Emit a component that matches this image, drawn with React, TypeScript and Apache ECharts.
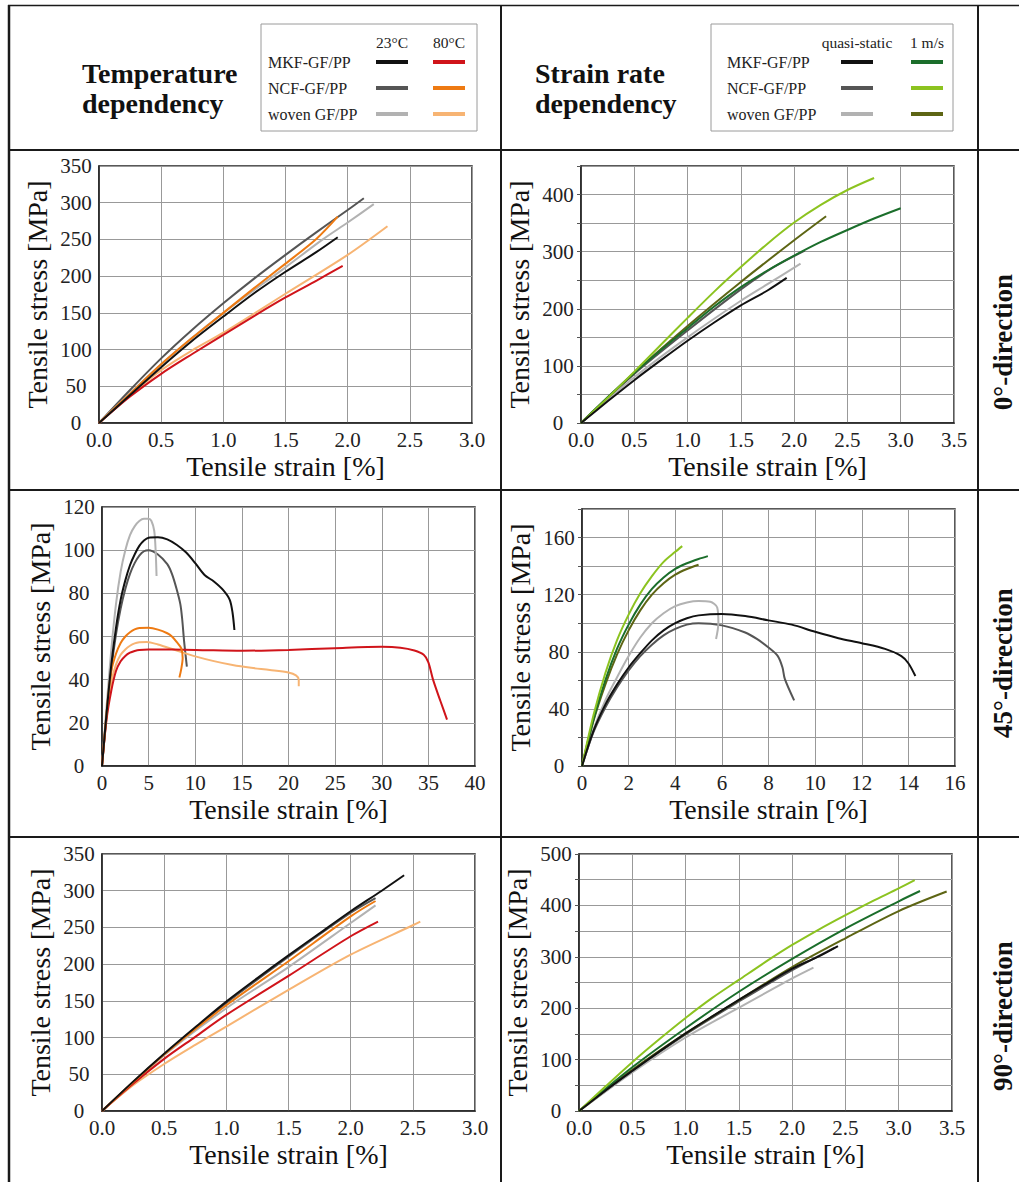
import React, { useEffect, useRef } from "react";
import * as echarts from "echarts";

const FONT = "Liberation Serif";

// legend / category labels
const materials = ["MKF-GF/PP", "NCF-GF/PP", "woven GF/PP"];
const tempColumns = ["23°C", "80°C"];
const rateColumns = ["quasi-static", "1 m/s"];
const directions = ["0°-direction", "45°-direction", "90°-direction"];

// colours: [MKF, NCF, woven]
const colors23 = ["#111111", "#555555", "#b2b2b2"];
const colors80 = ["#d0141a", "#ee7a12", "#f7b473"];
const colorsQS = ["#111111", "#555555", "#b2b2b2"];
const colors1ms = ["#1b6e2b", "#8cc320", "#5d6514"];

// ---------- Panel A: temperature, 0° ----------
const a_mkf23 = [[0, 0], [0.25, 38], [0.5, 76], [0.75, 112], [1.0, 145], [1.25, 177], [1.5, 206], [1.75, 233], [1.92, 253]];
const a_ncf23 = [[0, 0], [0.25, 45], [0.5, 88], [0.75, 127], [1.0, 163], [1.25, 197], [1.5, 229], [1.75, 260], [2.0, 290], [2.13, 306]];
const a_wov23 = [[0, 0], [0.5, 80], [1.0, 150], [1.5, 212], [1.8, 250], [2.0, 273], [2.21, 298]];
const a_mkf80 = [[0, 0], [0.25, 36], [0.5, 67], [0.75, 94], [1.0, 120], [1.25, 146], [1.5, 171], [1.75, 194], [1.96, 214]];
const a_ncf80 = [[0, 0], [0.25, 40], [0.5, 80], [0.75, 116], [1.0, 150], [1.25, 184], [1.5, 217], [1.75, 251], [1.92, 281]];
const a_wov80 = [[0, 0], [0.25, 38], [0.5, 72], [0.75, 99], [1.0, 123], [1.5, 176], [2.0, 229], [2.32, 268]];

// ---------- Panel B: strain rate, 0° ----------
const b_mkfQS = [[0, 0], [0.25, 38], [0.5, 75], [0.75, 110], [1.0, 144], [1.25, 176], [1.5, 206], [1.75, 232], [1.93, 254]];
const b_ncfQS = [[0, 0], [0.5, 86], [1.0, 162], [1.5, 234], [1.8, 272], [2.1, 302]];
const b_wovQS = [[0, 0], [0.5, 80], [1.0, 150], [1.5, 214], [1.75, 243], [2.06, 279]];
const b_mkf1 = [[0, 0], [0.25, 45], [0.5, 88], [0.75, 128], [1.0, 166], [1.25, 204], [1.5, 238], [1.75, 267], [2.0, 293], [2.25, 317], [2.5, 338], [2.75, 358], [3.0, 376]];
const b_ncf1 = [[0, 0], [0.25, 44], [0.5, 90], [0.75, 137], [1.0, 184], [1.25, 230], [1.5, 273], [1.75, 314], [2.0, 351], [2.25, 382], [2.5, 408], [2.75, 429]];
const b_wov1 = [[0, 0], [0.5, 88], [1.0, 170], [1.5, 247], [2.0, 320], [2.3, 362]];

// ---------- Panel C: temperature, 45° ----------
const c_mkf23 = [[0, 0], [0.5, 25], [1, 47], [1.5, 64], [2, 77], [2.5, 86], [3, 93], [3.5, 98], [4, 102], [4.5, 104.5], [5, 105.8], [6, 106], [7, 105], [8, 102.5], [9, 99], [10, 94], [11, 88.5], [12, 85.5], [13, 81.5], [13.7, 77], [14, 71], [14.2, 63]];
const c_ncf23 = [[0, 0], [0.5, 24], [1, 45], [1.5, 61], [2, 73], [2.5, 82], [3, 89], [3.5, 94], [4, 97.5], [4.5, 99.5], [5, 100], [6, 98], [7, 93.5], [7.5, 89], [8, 82], [8.4, 75], [8.6, 68], [8.8, 58], [9.0, 50], [9.1, 46]];
const c_wov23 = [[0, 0], [0.5, 28], [1, 54], [1.5, 75], [2, 90], [2.5, 100], [3, 107], [3.5, 111], [4, 113.5], [4.5, 114.5], [5, 114.5], [5.3, 113.5], [5.6, 109], [5.75, 100], [5.85, 88]];
const c_mkf80 = [[0, 0], [0.5, 22], [1, 35], [1.5, 44], [2, 48.5], [2.5, 51], [3, 52.5], [3.5, 53.3], [4, 53.8], [5, 54], [10, 53.8], [15, 53.4], [20, 53.8], [25, 54.6], [30, 55.2], [32, 54.8], [33.5, 53.5], [34.5, 51.5], [35, 48], [35.5, 40], [36.3, 30], [37, 21.5]];
const c_ncf80 = [[0, 0], [0.5, 25], [1, 44], [1.5, 52], [2, 57], [2.5, 60], [3, 62], [3.5, 63.3], [4, 63.9], [5, 64], [6, 63.2], [7, 61.5], [7.5, 60], [8, 57.5], [8.5, 54.5], [8.65, 50], [8.5, 45], [8.3, 41]];
const c_wov80 = [[0, 0], [0.5, 23], [1, 39], [1.5, 47], [2, 51.5], [2.5, 54], [3, 55.7], [3.5, 56.8], [4, 57.3], [4.8, 57.5], [6, 56.3], [8, 53.5], [10, 50.8], [12, 48.6], [14, 46.8], [16, 45.5], [18, 44.5], [20, 43.3], [20.8, 42], [21.1, 40], [21.1, 37]];

// ---------- Panel D: strain rate, 45° ----------
const d_mkfQS = [[0, 0], [0.5, 25], [1, 43], [1.5, 57], [2, 69], [2.5, 79], [3, 88], [3.5, 95], [4, 100], [4.5, 103.5], [5, 105.5], [6, 106.5], [7, 105], [8, 102], [9, 99], [10, 94], [11, 89.5], [12, 86], [13, 82], [13.7, 77], [14, 72], [14.3, 63]];
const d_ncfQS = [[0, 0], [0.5, 24], [1, 41], [1.5, 55], [2, 67], [2.5, 77], [3, 85], [3.5, 91.5], [4, 96], [4.5, 99], [5, 100], [6, 98.5], [7, 93.5], [7.5, 89], [8, 83], [8.4, 77], [8.6, 69], [8.7, 61], [9.1, 46]];
const d_wovQS = [[0, 0], [0.5, 26], [1, 46], [1.5, 62], [2, 77], [2.5, 90], [3, 100], [3.5, 107], [4, 112], [4.5, 114.5], [5, 115.5], [5.5, 115], [5.8, 111], [5.85, 100], [5.75, 89]];
const d_mkf1 = [[0, 0], [0.5, 33], [1, 60], [1.5, 82], [2, 99], [2.5, 113], [3, 124], [3.5, 132], [4, 138], [4.5, 142], [5, 145], [5.4, 147]];
const d_ncf1 = [[0, 0], [0.5, 36], [1, 65], [1.5, 88], [2, 106], [2.5, 121], [3, 133], [3.5, 143], [4, 150], [4.3, 154]];
const d_wov1 = [[0, 0], [0.5, 32], [1, 57], [1.5, 78], [2, 95], [2.5, 109], [3, 120], [3.5, 128], [4, 134], [4.5, 138], [5, 141]];

// ---------- Panel E: temperature, 90° ----------
const e_mkf23 = [[0, 0], [0.25, 40], [0.5, 78], [0.75, 114], [1.0, 149], [1.25, 181], [1.5, 212], [1.75, 242], [2.0, 272], [2.25, 300], [2.43, 321]];
const e_ncf23 = [[0, 0], [0.5, 77], [1.0, 147], [1.5, 210], [2.0, 270], [2.2, 290]];
const e_wov23 = [[0, 0], [0.5, 76], [1.0, 140], [1.5, 196], [2.0, 256], [2.2, 280]];
const e_mkf80 = [[0, 0], [0.25, 37], [0.5, 71], [0.75, 101], [1.0, 131], [1.5, 184], [2.0, 238], [2.22, 258]];
const e_ncf80 = [[0, 0], [0.5, 77], [1.0, 144], [1.5, 204], [2.0, 265], [2.2, 286]];
const e_wov80 = [[0, 0], [0.25, 35], [0.5, 64], [0.75, 90], [1.0, 115], [1.5, 165], [2.0, 213], [2.5, 253], [2.56, 258]];

// ---------- Panel F: strain rate, 90° ----------
const f_mkfQS = [[0, 0], [0.25, 40], [0.5, 78], [0.75, 115], [1.0, 151], [1.25, 184], [1.5, 216], [1.75, 247], [2.0, 277], [2.25, 301], [2.43, 321]];
const f_ncfQS = [[0, 0], [0.5, 77], [1.0, 149], [1.5, 213], [2.0, 274], [2.4, 318]];
const f_wovQS = [[0, 0], [0.5, 75], [1.0, 143], [1.5, 201], [2.0, 258], [2.2, 279]];
const f_mkf1 = [[0, 0], [0.5, 85], [1.0, 161], [1.5, 232], [2.0, 296], [2.5, 355], [3.0, 408], [3.2, 428]];
const f_ncf1 = [[0, 0], [0.25, 48], [0.5, 95], [0.75, 139], [1.0, 181], [1.25, 220], [1.5, 255], [1.75, 290], [2.0, 323], [2.25, 353], [2.5, 381], [2.75, 408], [3.0, 433], [3.15, 449]];
const f_wov1 = [[0, 0], [0.5, 80], [1.0, 151], [1.5, 216], [2.0, 280], [2.5, 336], [3.0, 389], [3.45, 427]];

// axis ranges per panel: [xmax, xInterval, ymax, yInterval, yLabelEvery, xDecimals]
const panelAxes = [
  [3.0, 0.5, 350, 50, 50, 1],
  [3.5, 0.5, 450, 50, 100, 1],
  [40, 5, 120, 20, 20, 0],
  [16, 2, 180, 20, 40, 0],
  [3.0, 0.5, 350, 50, 50, 1],
  [3.5, 0.5, 500, 50, 100, 1],
];

// grid rectangles (layout)
const grids = [
  { left: 99, top: 166, width: 373, height: 257 },
  { left: 581, top: 166, width: 373, height: 257 },
  { left: 102, top: 507, width: 373, height: 259 },
  { left: 582, top: 509, width: 373, height: 257 },
  { left: 102, top: 854, width: 373, height: 257 },
  { left: 579, top: 854, width: 373, height: 257 },
];

function mkLine(idx: number, data: number[][], color: string, name: string) {
  return {
    type: "line",
    name,
    xAxisIndex: idx,
    yAxisIndex: idx,
    data,
    smooth: 0.3,
    showSymbol: false,
    symbol: "none",
    lineStyle: { color, width: 2 },
    itemStyle: { color },
    z: 3,
  };
}

function tempSeries(idx: number, mkf23: number[][], ncf23: number[][], wov23: number[][], mkf80: number[][], ncf80: number[][], wov80: number[][]) {
  const list = [
    { d: ncf23, c: colors23[1], n: materials[1] + " " + tempColumns[0] },
    { d: wov80, c: colors80[2], n: materials[2] + " " + tempColumns[1] },
    { d: wov23, c: colors23[2], n: materials[2] + " " + tempColumns[0] },
    { d: mkf80, c: colors80[0], n: materials[0] + " " + tempColumns[1] },
    { d: ncf80, c: colors80[1], n: materials[1] + " " + tempColumns[1] },
    { d: mkf23, c: colors23[0], n: materials[0] + " " + tempColumns[0] },
  ];
  return list.map((s) => mkLine(idx, s.d, s.c, s.n));
}

function rateSeries(idx: number, mkfQS: number[][], ncfQS: number[][], wovQS: number[][], mkf1: number[][], ncf1: number[][], wov1: number[][]) {
  const list = [
    { d: ncfQS, c: colorsQS[1], n: materials[1] + " " + rateColumns[0] },
    { d: wovQS, c: colorsQS[2], n: materials[2] + " " + rateColumns[0] },
    { d: wov1, c: colors1ms[2], n: materials[2] + " " + rateColumns[1] },
    { d: mkf1, c: colors1ms[0], n: materials[0] + " " + rateColumns[1] },
    { d: ncf1, c: colors1ms[1], n: materials[1] + " " + rateColumns[1] },
    { d: mkfQS, c: colorsQS[0], n: materials[0] + " " + rateColumns[0] },
  ];
  return list.map((s) => mkLine(idx, s.d, s.c, s.n));
}

function buildAxes() {
  const xAxis: any[] = [];
  const yAxis: any[] = [];
  panelAxes.forEach((p, i) => {
    const [xmax, xint, ymax, yint, every, dec] = p;
    const rate = i % 2 === 1;
    xAxis.push({
      type: "value",
      gridIndex: i,
      min: 0,
      max: xmax,
      interval: xint,
      name: "Tensile strain [%]",
      nameLocation: "middle",
      nameGap: 29,
      nameTextStyle: { fontSize: 28, fontFamily: FONT, color: "#111" },
      axisLine: { show: true, onZero: false, lineStyle: { color: "#222", width: 1.5 } },
      axisTick: { show: false },
      axisLabel: {
        fontSize: 21,
        fontFamily: FONT,
        color: "#222",
        margin: 6,
        formatter: (v: number) => (dec ? v.toFixed(1) : String(Math.round(v))),
      },
      splitLine: { show: true, lineStyle: { color: "#999", width: 1 } },
    });
    yAxis.push({
      type: "value",
      gridIndex: i,
      min: 0,
      max: ymax,
      interval: yint,
      name: "Tensile stress [MPa]",
      nameLocation: "middle",
      nameGap: 48,
      nameTextStyle: { fontSize: 28, fontFamily: FONT, color: "#111" },
      axisLine: { show: true, onZero: false, lineStyle: { color: "#222", width: 1.5 } },
      axisTick: { show: rate, length: 4, lineStyle: { color: "#555" } },
      axisLabel: {
        fontSize: 21,
        fontFamily: FONT,
        color: "#222",
        align: "center",
        margin: 23,
        formatter: (v: number) => (Math.round(v) % every === 0 ? String(Math.round(v)) : ""),
      },
      splitLine: { show: true, lineStyle: { color: "#999", width: 1 } },
    });
  });
  return { xAxis, yAxis };
}

function legendGraphics(
  boxX: number,
  boxW: number,
  labelX: number,
  cols: string[],
  colCenters: number[],
  lineHalf: number,
  c1: string[],
  c2: string[]
) {
  const els: any[] = [];
  els.push({
    type: "rect",
    shape: { x: boxX, y: 24, width: boxW, height: 107 },
    style: { fill: "#fff", stroke: "#9a9a9a", lineWidth: 1 },
    z: 10,
  });
  cols.forEach((c, i) => {
    els.push({
      type: "text",
      x: colCenters[i],
      y: 42,
      style: { text: c, fontSize: 15.5, fontFamily: FONT, fill: "#222", align: "center", verticalAlign: "middle" },
      z: 11,
    });
  });
  const rowsY = [62, 88, 114];
  materials.forEach((m, r) => {
    els.push({
      type: "text",
      x: labelX,
      y: rowsY[r],
      style: { text: m, fontSize: 16, fontFamily: FONT, fill: "#222", align: "left", verticalAlign: "middle" },
      z: 11,
    });
    [c1, c2].forEach((cs, k) => {
      els.push({
        type: "line",
        shape: { x1: colCenters[k] - lineHalf, y1: rowsY[r], x2: colCenters[k] + lineHalf, y2: rowsY[r] },
        style: { stroke: cs[r], lineWidth: 4 },
        z: 11,
      });
    });
  });
  return els;
}

function frameGraphics() {
  const els: any[] = [];
  const line = (x1: number, y1: number, x2: number, y2: number, w: number) =>
    els.push({ type: "line", shape: { x1, y1, x2, y2 }, style: { stroke: "#1a1a1a", lineWidth: w }, z: 20 });
  line(8, 5.5, 1019, 5.5, 1.5);
  line(9, 5, 9, 1182, 2.5);
  line(8, 150, 1019, 150, 2);
  line(8, 490, 1019, 490, 2);
  line(8, 837, 1019, 837, 2);
  line(501, 5, 501, 1182, 2);
  line(978, 5, 978, 1182, 2);
  return els;
}

function headerGraphics() {
  const els: any[] = [];
  const bold = (text: string, x: number, y: number) =>
    els.push({
      type: "text",
      x,
      y,
      style: { text, fontSize: 28, fontWeight: "bold", fontFamily: FONT, fill: "#111", align: "left", verticalAlign: "middle" },
      z: 11,
    });
  bold("Temperature", 82, 73);
  bold("dependency", 82, 103);
  bold("Strain rate", 535, 73);
  bold("dependency", 535, 103);
  const dirY = [342, 663, 1016];
  directions.forEach((d, i) => {
    els.push({
      type: "text",
      x: 1003,
      y: dirY[i],
      rotation: Math.PI / 2,
      style: { text: d, fontSize: 27, fontWeight: "bold", fontFamily: FONT, fill: "#111", align: "center", verticalAlign: "middle" },
      z: 11,
    });
  });
  return els;
}

export default function App() {
  const ref = useRef<HTMLDivElement>(null);
  useEffect(() => {
    if (!ref.current) return;
    const chart = echarts.init(ref.current, undefined, { renderer: "svg" });
    const { xAxis, yAxis } = buildAxes();
    const series = [
      ...tempSeries(0, a_mkf23, a_ncf23, a_wov23, a_mkf80, a_ncf80, a_wov80),
      ...rateSeries(1, b_mkfQS, b_ncfQS, b_wovQS, b_mkf1, b_ncf1, b_wov1),
      ...tempSeries(2, c_mkf23, c_ncf23, c_wov23, c_mkf80, c_ncf80, c_wov80),
      ...rateSeries(3, d_mkfQS, d_ncfQS, d_wovQS, d_mkf1, d_ncf1, d_wov1),
      ...tempSeries(4, e_mkf23, e_ncf23, e_wov23, e_mkf80, e_ncf80, e_wov80),
      ...rateSeries(5, f_mkfQS, f_ncfQS, f_wovQS, f_mkf1, f_ncf1, f_wov1),
    ];
    chart.setOption({
      animation: false,
      backgroundColor: "#fff",
      textStyle: { fontFamily: FONT },
      grid: grids.map((g) => ({ ...g, show: true, borderColor: "#222", borderWidth: 1.5, backgroundColor: "transparent", containLabel: false })),
      xAxis,
      yAxis,
      series,
      graphic: [
        ...frameGraphics(),
        ...headerGraphics(),
        ...legendGraphics(261, 216, 268, tempColumns, [392, 449], 16, colors23, colors80),
        ...legendGraphics(711, 242, 727, rateColumns, [857, 927], 16, colorsQS, colors1ms),
      ],
    });
    return () => chart.dispose();
  }, []);
  return (
    <div
      ref={ref}
      style={{ position: "absolute", left: 0, top: 0, width: 1019, height: 1182, background: "#fff" }}
    />
  );
}
